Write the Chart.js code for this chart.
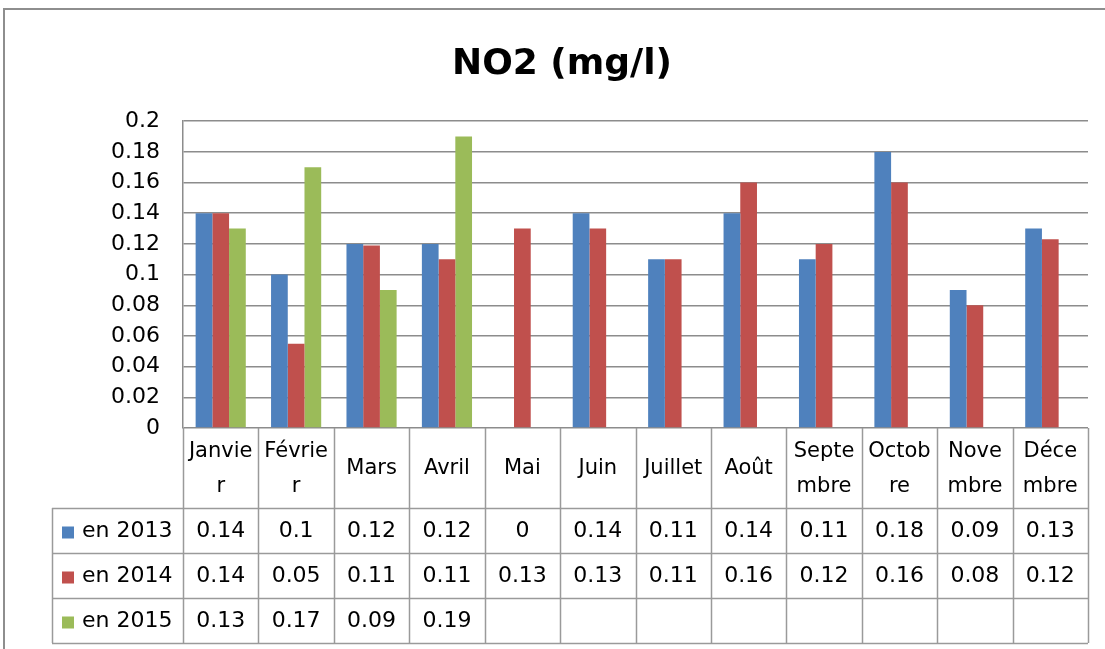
<!DOCTYPE html>
<html lang="fr">
<head>
<meta charset="UTF-8">
<title>NO2 (mg/l)</title>
<script src="https://cdn.jsdelivr.net/npm/chart.js"></script>
<style>
    body { margin: 0; background: #fff; overflow: hidden; }
    .cadre { position: absolute; left: 3px; top: 8px; width: 1200px; height: 800px; border: 2px solid #8e8e8e; }
    .zone { position: absolute; left: 0; top: 0; width: 1105px; height: 649px; }
</style>
</head>
<body>
<div class="cadre"></div>
<div class="zone"><canvas id="graphNO2"></canvas></div>

<script>
    // mois (coupés comme dans le tableau Excel)
    const mois = [['Janvie', 'r'], ['Févrie', 'r'], ['Mars'], ['Avril'], ['Mai'], ['Juin'],
        ['Juillet'], ['Août'], ['Septe', 'mbre'], ['Octob', 're'], ['Nove', 'mbre'], ['Déce', 'mbre']];
    const series = ['en 2013', 'en 2014', 'en 2015'];
    const couleurs = ['#4F81BD', '#C0504D', '#9BBB59'];

    // hauteurs des barres
    const val2013 = [0.14, 0.10, 0.12, 0.12, 0, 0.14, 0.11, 0.14, 0.11, 0.18, 0.09, 0.13];
    const val2014 = [0.14, 0.055, 0.119, 0.11, 0.13, 0.13, 0.11, 0.16, 0.12, 0.16, 0.08, 0.123];
    const val2015 = [0.13, 0.17, 0.09, 0.19, null, null, null, null, null, null, null, null];

    // valeurs affichées dans le tableau de données
    const tab2013 = ['0.14', '0.1', '0.12', '0.12', '0', '0.14', '0.11', '0.14', '0.11', '0.18', '0.09', '0.13'];
    const tab2014 = ['0.14', '0.05', '0.11', '0.11', '0.13', '0.13', '0.11', '0.16', '0.12', '0.16', '0.08', '0.12'];
    const tab2015 = ['0.13', '0.17', '0.09', '0.19', '', '', '', '', '', '', '', ''];

    const yMin = 0, yMax = 0.2, yPas = 0.02;

    const valeurs = [val2013, val2014, val2015];
    const tableau = [tab2013, tab2014, tab2015];

    // tableau de données sous le graphique
    const tableauPlugin = {
        id: 'tableauDonnees',
        afterDraw(chart) {
            const ctx = chart.ctx;
            const x = chart.scales.x;
            const area = chart.chartArea;
            const w = x.width / mois.length;
            const hautEntete = 80, hautLigne = 45, gauche = 52;
            const yEntete = area.bottom + hautEntete;
            const yFin = yEntete + hautLigne * series.length;

            ctx.save();
            ctx.strokeStyle = '#9a9a9a';
            ctx.lineWidth = 1.5;
            ctx.beginPath();
            // verticales
            for (let i = 0; i <= mois.length; i++) {
                const px = Math.round(x.left + i * w) + 0.5;
                ctx.moveTo(px, area.bottom);
                ctx.lineTo(px, yFin);
            }
            ctx.moveTo(gauche + 0.5, yEntete);
            ctx.lineTo(gauche + 0.5, yFin);
            // horizontales
            for (let r = 0; r <= series.length; r++) {
                const py = Math.round(yEntete + r * hautLigne) + 0.5;
                ctx.moveTo(gauche, py);
                ctx.lineTo(x.right, py);
            }
            ctx.stroke();

            ctx.fillStyle = '#000';
            ctx.textAlign = 'center';
            ctx.textBaseline = 'middle';
            ctx.font = "21px 'DejaVu Sans'";
            mois.forEach((lignes, i) => {
                const cx = x.getPixelForTick(i);
                const cy = area.bottom + hautEntete / 2;
                const esp = 35;
                lignes.forEach((t, k) => {
                    ctx.fillText(t, cx, cy + 1 + (k - (lignes.length - 1) / 2) * esp);
                });
            });

            ctx.font = "22px 'DejaVu Sans'";
            tableau.forEach((ligne, r) => {
                const cy = yEntete + r * hautLigne + hautLigne / 2 + 1;
                ligne.forEach((t, i) => {
                    ctx.fillText(t, x.getPixelForTick(i), cy);
                });
                // légende
                ctx.fillStyle = couleurs[r];
                ctx.fillRect(gauche + 10, cy - 5, 12, 12);
                ctx.fillStyle = '#000';
                ctx.textAlign = 'left';
                ctx.fillText(series[r], gauche + 30, cy);
                ctx.textAlign = 'center';
            });
            ctx.restore();
        }
    };

    new Chart(document.getElementById('graphNO2'), {
        type: 'bar',
        data: {
            labels: mois.map(m => m.join('')),
            datasets: series.map((nom, i) => ({
                label: nom,
                data: valeurs[i],
                backgroundColor: couleurs[i],
                borderWidth: 0,
                barPercentage: 1,
                categoryPercentage: 0.665
            }))
        },
        options: {
            responsive: true,
            maintainAspectRatio: false,
            animation: false,
            layout: { padding: { left: 36, right: 17, top: 0, bottom: 221 } },
            plugins: {
                legend: { display: false },
                tooltip: { enabled: false },
                title: {
                    display: true,
                    text: 'NO2 (mg/l)',
                    color: '#000',
                    font: { family: 'DejaVu Sans', size: 36, weight: 'bold', lineHeight: 1.2 },
                    padding: { top: 43, bottom: 35 }
                }
            },
            scales: {
                x: { display: false },
                y: {
                    min: yMin,
                    max: yMax,
                    afterFit(scale) { scale.width = 147; },
                    ticks: {
                        stepSize: yPas,
                        color: '#000',
                        padding: 23,
                        font: { family: 'DejaVu Sans', size: 22 },
                        callback: v => String(Number(v.toFixed(2)))
                    },
                    grid: { color: '#8c8c8c', lineWidth: 1.5, drawTicks: false },
                    border: { display: true, color: '#8c8c8c', width: 1.5 }
                }
            }
        },
        plugins: [tableauPlugin]
    });
</script>
</body>
</html>
